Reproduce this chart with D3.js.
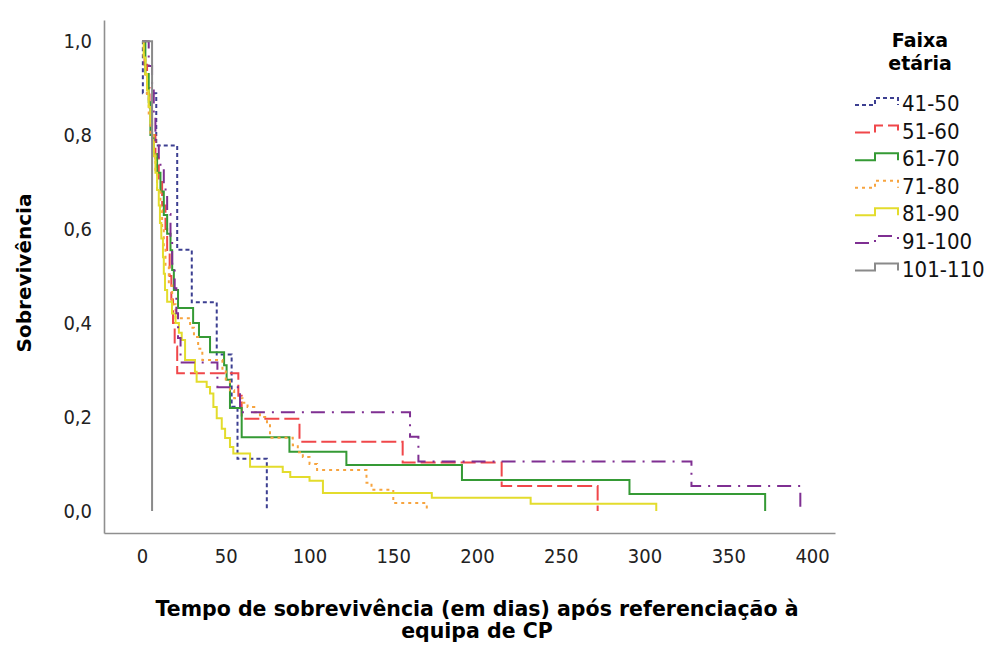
<!DOCTYPE html>
<html>
<head>
<meta charset="utf-8">
<script src="https://cdn.jsdelivr.net/npm/d3@7"></script>
<style>
  html, body { margin: 0; padding: 0; background: #fff; }
  svg { display: block; }
  .tick-lbl { font-family: 'DejaVu Sans Condensed', 'DejaVu Sans', sans-serif; font-stretch: condensed; }
  .ttl { font-family: 'DejaVu Sans', sans-serif; font-weight: bold; }
</style>
</head>
<body>
<svg id="chart" width="988" height="648"></svg>
<script>
// Kaplan-Meier survival by age group (step functions: time in days, survival proportion)
const ageGroups = ["41-50", "51-60", "61-70", "71-80", "81-90", "91-100", "101-110"];

const times41_50 = [0, 0.5, 8.5, 21, 29.7, 44.6, 53.5, 57, 74.5];
const surv41_50  = [1, 0.889, 0.778, 0.556, 0.444, 0.333, 0.222, 0.111, 0];

const times51_60 = [0, 1.5, 3, 4.5, 6, 8, 10, 12, 14, 15, 16.5, 17.5, 18.5, 19.5, 21, 57.5, 59.5, 94, 155.6, 214.7, 272];
const surv51_60  = [1, 0.95, 0.9, 0.85, 0.8, 0.75, 0.7, 0.65, 0.6, 0.55, 0.5, 0.45, 0.4, 0.35, 0.293, 0.245, 0.196, 0.147, 0.103, 0.053, 0];

const times61_70 = [0, 2, 4, 5, 7, 9, 11, 13, 15, 17, 18, 19, 21.5, 30.5, 34, 40.6, 49, 50.5, 52.5, 59.5, 88, 122, 191, 291, 372];
const surv61_70  = [1, 0.93, 0.87, 0.8, 0.76, 0.72, 0.68, 0.63, 0.59, 0.555, 0.513, 0.47, 0.432, 0.4, 0.37, 0.338, 0.31, 0.279, 0.219, 0.157, 0.126, 0.098, 0.066, 0.036, 0];

const times71_80 = [0, 1, 2, 3, 4, 5, 7, 8, 9, 11, 12, 13, 14, 16, 18, 20, 28.7, 31, 33.5, 36, 48, 50, 52.5, 55, 60, 63, 67, 70.4, 74.6, 76.4, 90, 93, 96, 100, 104.5, 134, 137, 150, 170];
const surv71_80  = [1, 0.96, 0.92, 0.88, 0.84, 0.8, 0.76, 0.72, 0.68, 0.64, 0.6, 0.56, 0.52, 0.48, 0.44, 0.41, 0.39, 0.37, 0.345, 0.321, 0.3, 0.28, 0.257, 0.24, 0.23, 0.221, 0.21, 0.2, 0.185, 0.156, 0.14, 0.125, 0.115, 0.1, 0.087, 0.06, 0.045, 0.017, 0];

const times81_90 = [0, 1, 2, 3, 4, 5, 6, 7, 8, 9, 10, 10.7, 11.5, 12.5, 13, 13.7, 15, 17.9, 20, 22, 23.7, 25.7, 31.6, 32.6, 38.6, 40.6, 42.6, 44.6, 47.6, 49.6, 52.5, 54.5, 64.5, 84, 88.5, 100, 108, 173, 232, 307];
const surv81_90  = [1, 0.965, 0.93, 0.895, 0.86, 0.825, 0.79, 0.755, 0.72, 0.683, 0.65, 0.613, 0.58, 0.54, 0.505, 0.47, 0.445, 0.42, 0.4, 0.379, 0.364, 0.321, 0.296, 0.275, 0.264, 0.25, 0.221, 0.197, 0.175, 0.155, 0.136, 0.122, 0.094, 0.083, 0.072, 0.064, 0.038, 0.028, 0.015, 0];

const times91_100 = [0, 4, 6, 7, 8, 10, 13, 15, 17, 18, 19.5, 20.5, 21.5, 23, 45, 58.5, 160, 165, 328, 393];
const surv91_100  = [1, 0.947, 0.895, 0.842, 0.789, 0.737, 0.684, 0.632, 0.579, 0.526, 0.474, 0.421, 0.368, 0.316, 0.263, 0.21, 0.158, 0.105, 0.053, 0];

const times101_110 = [0, 6];
const surv101_110  = [1, 0];

const xTickValues = [0, 50, 100, 150, 200, 250, 300, 350, 400];
const yTickValues = [0, 0.2, 0.4, 0.6, 0.8, 1.0];

// series styles
const colors = ["#3c3f91", "#f0474a", "#359a35", "#f7a43f", "#e3dc2c", "#7f2f92", "#8a8a8a"];
const dashes = ["4,3", "15,5", null, "3,4", null, "14,7,2,7", null];

const seriesTimes = [times41_50, times51_60, times61_70, times71_80, times81_90, times91_100, times101_110];
const seriesSurv  = [surv41_50, surv51_60, surv61_70, surv71_80, surv81_90, surv91_100, surv101_110];

const series = ageGroups.map((g, i) => ({
  name: g,
  color: colors[i],
  dash: dashes[i],
  points: seriesTimes[i].map((t, j) => [t, seriesSurv[i][j]])
}));

const svg = d3.select("#chart");

const x = d3.scaleLinear().domain([-22.7, 413.7]).range([104, 835]);
const y = d3.scaleLinear().domain([-0.047, 1.045]).range([533, 20]);

// axes
const xAxis = svg.append("g")
  .attr("transform", "translate(0,533)")
  .call(d3.axisBottom(x).tickValues(xTickValues).tickSize(0).tickSizeOuter(0).tickPadding(16).tickFormat(d3.format("d")));
const yAxis = svg.append("g")
  .attr("transform", "translate(104,0)")
  .call(d3.axisLeft(y).tickValues(yTickValues).tickSize(0).tickSizeOuter(0).tickPadding(12)
    .tickFormat(d => d.toFixed(1).replace(".", ",")));

[xAxis, yAxis].forEach(a => {
  a.select(".domain").attr("stroke", "#8f8f8f").attr("stroke-width", 1.6);
  a.selectAll("text").attr("class", "tick-lbl").attr("font-size", 20).attr("fill", "#222");
});

// survival curves
const line = d3.line()
  .x(d => x(d[0]))
  .y(d => y(d[1]))
  .curve(d3.curveStepAfter);

svg.append("g").selectAll("path")
  .data(series)
  .join("path")
  .attr("d", d => line(d.points))
  .attr("fill", "none")
  .attr("stroke", d => d.color)
  .attr("stroke-width", 2)
  .attr("stroke-dasharray", d => d.dash);

// axis titles
svg.append("text")
  .attr("class", "ttl")
  .attr("transform", "translate(31,273) rotate(-90)")
  .attr("text-anchor", "middle")
  .attr("font-size", 20)
  .text("Sobrevivência");

svg.append("text")
  .attr("class", "ttl")
  .attr("x", 477).attr("y", 616)
  .attr("text-anchor", "middle")
  .attr("font-size", 20.5)
  .text("Tempo de sobrevivência (em dias) após referenciação à");
svg.append("text")
  .attr("class", "ttl")
  .attr("x", 477).attr("y", 638)
  .attr("text-anchor", "middle")
  .attr("font-size", 20.5)
  .text("equipa de CP");

// legend
const legend = svg.append("g");
legend.append("text").attr("class", "ttl").attr("x", 920).attr("y", 47)
  .attr("text-anchor", "middle").attr("font-size", 19).text("Faixa");
legend.append("text").attr("class", "ttl").attr("x", 920).attr("y", 70)
  .attr("text-anchor", "middle").attr("font-size", 19).text("etária");

const legendY = d3.scalePoint().domain(ageGroups).range([103, 268.5]);
const item = legend.selectAll("g.item")
  .data(series)
  .join("g")
  .attr("class", "item")
  .attr("transform", d => `translate(0,${legendY(d.name)})`);

item.append("path")
  .attr("d", d3.line()([[855, 2], [875, 2], [875, -5], [898, -5], [898, 2]]))
  .attr("fill", "none")
  .attr("stroke", d => d.color)
  .attr("stroke-width", 2)
  .attr("stroke-dasharray", d => d.dash);

item.append("text")
  .attr("class", "tick-lbl")
  .attr("x", 902)
  .attr("y", 8)
  .attr("font-size", 22)
  .attr("fill", "#111")
  .text(d => d.name);
</script>
</body>
</html>
